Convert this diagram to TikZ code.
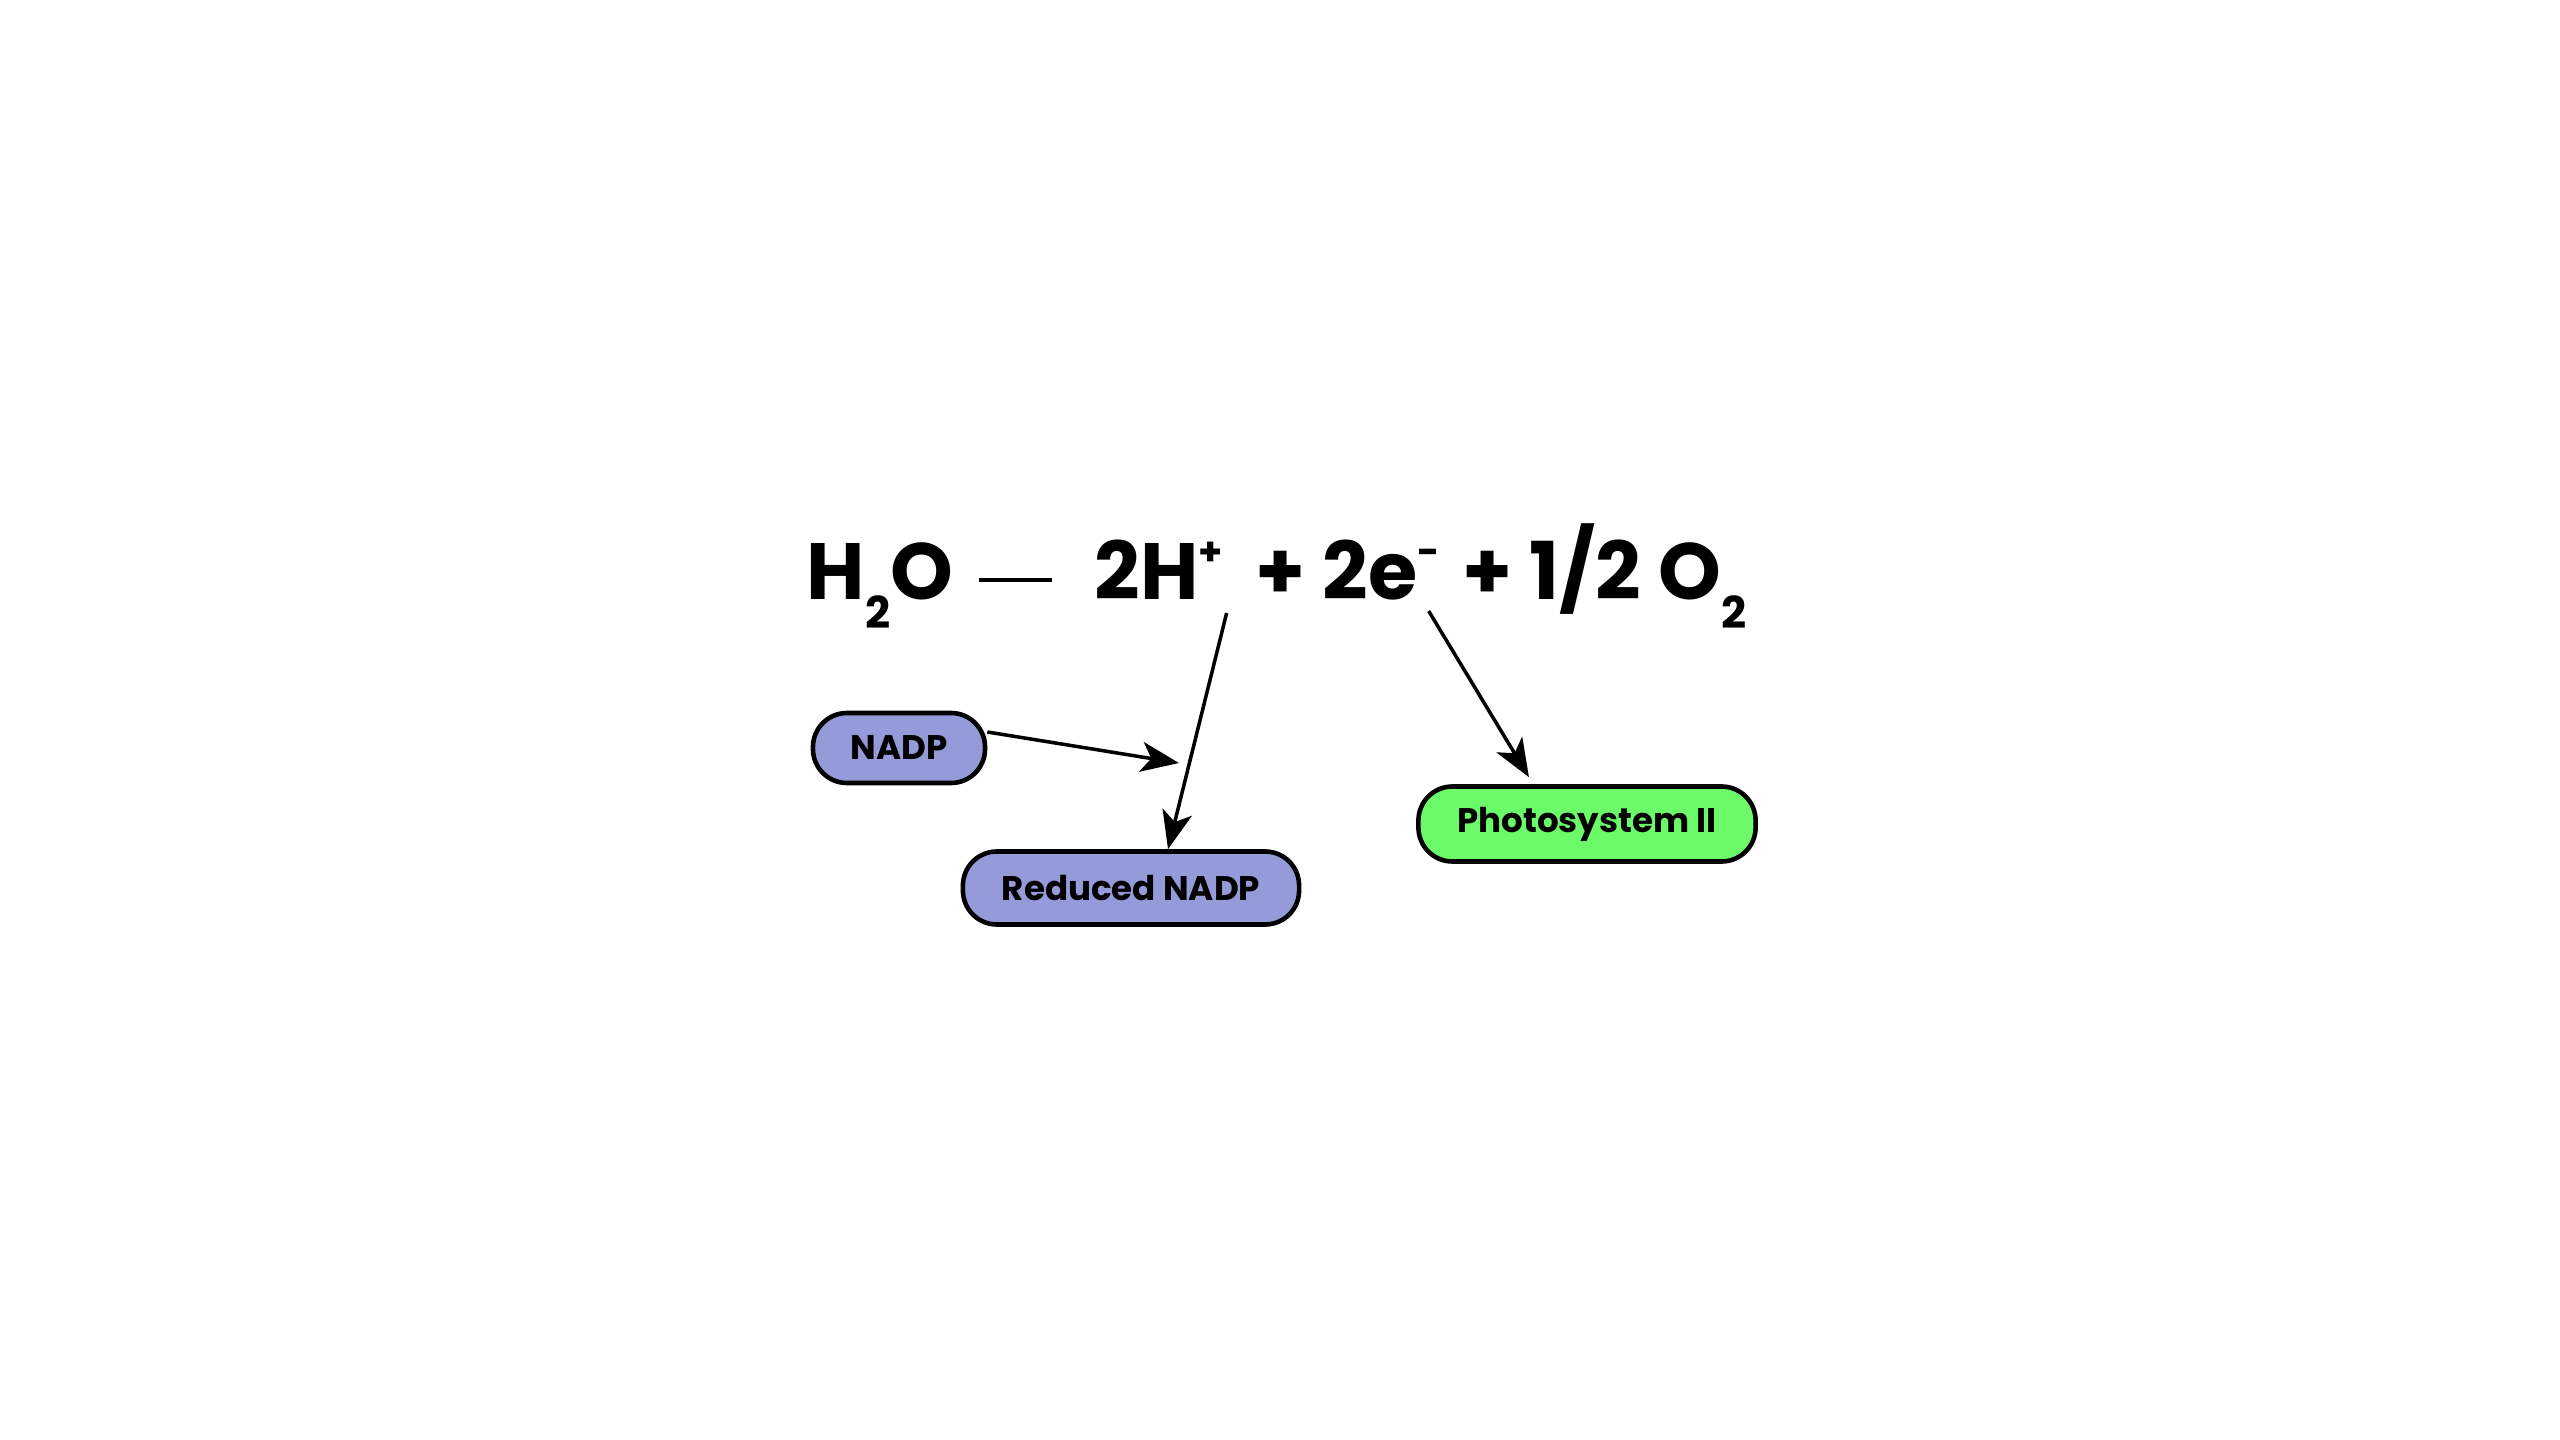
\documentclass[tikz,border=0pt]{standalone}
\usepackage{fontspec}
\setmainfont{Poppins}
\usepackage{tikz}
\usetikzlibrary{arrows.meta}
\definecolor{nadpblue}{HTML}{959AD9}
\definecolor{psgreen}{HTML}{6CFB68}
\newcommand{\subtwo}{\raisebox{-0.28cm}{\fontsize{12.5}{12.5}\selectfont 2}}
\newcommand{\supsign}[1]{\raisebox{0.34cm}{\fontsize{11}{11}\selectfont #1}}
\tikzset{
	% Pill boxes for the products, text of the equation, and the reaction arrows
	pill node/.style={draw,line width=1.3pt,rounded corners=0.34cm,inner sep=0,font=\fontsize{9.7}{11}\selectfont\bfseries},
	eq node/.style={anchor=base west,inner sep=0,font=\fontsize{22.7}{26}\selectfont\bfseries},
	react arrow/.style={line width=1pt,-{Stealth[length=0.38cm,width=0.3cm,inset=0.1cm]}}
}

\begin{document}
\begin{tikzpicture}[x=0.01cm,y=-0.01cm]
			\useasboundingbox (0,0) rectangle (2560,1440);
			% The equation, piece by piece
			\node(h2o)[eq node] at (806,600) {H\subtwo O};
			\node(hplus)[eq node] at (1094,600) {2H\supsign{+}};
			\node(elec)[eq node] at (1255,600) {+ 2e\supsign{-}};
			\node(oxy)[eq node] at (1462,600) {+ 1/2 O\subtwo};
			\draw[line width=1pt,shorten <=0.25cm,shorten >=0.42cm] ([yshift=0.2cm]h2o.base east) -- ([yshift=0.2cm]hplus.base west);
			
			% Products
			\node(nadp)[pill node,fill=nadpblue,minimum width=1.72cm,minimum height=0.7cm] at (899,748) {NADP};
			\node(red)[pill node,fill=nadpblue,minimum width=3.36cm,minimum height=0.73cm] at (1131,888) {Reduced NADP};
			\node(ps2)[pill node,fill=psgreen,minimum width=3.37cm,minimum height=0.75cm] at (1587,824) {Photosystem II};
			\coordinate(join) at (1179,763);
			
			\draw[react arrow] ([xshift=0.03cm,yshift=-0.13cm]hplus.base east) -- ([xshift=0.37cm]red.north);
			\draw[react arrow] ([yshift=0.16cm]nadp.east) -- (join);
			\draw[react arrow] ([xshift=-0.12cm,yshift=-0.11cm]elec.base east) -- ([xshift=-0.58cm,yshift=0.07cm]ps2.north);
		\end{tikzpicture}
\end{document}
